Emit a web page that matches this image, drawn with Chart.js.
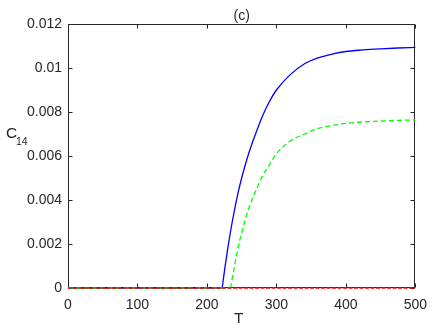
<!DOCTYPE html>
<html>
<head>
<meta charset="utf-8">
<script src="https://cdn.jsdelivr.net/npm/chart.js@4"></script>
<style>
html,body{margin:0;padding:0;background:#fff;}
#wrap{width:436px;height:328px;}
</style>
</head>
<body>
<div id="wrap"><canvas id="c" width="436" height="328"></canvas></div>
<script>
// ---- data ----
const xTicks = [0, 100, 200, 300, 400, 500];
const yTicks = [0, 0.002, 0.004, 0.006, 0.008, 0.01, 0.012];
const yTickLabels = ['0', '0.002', '0.004', '0.006', '0.008', '0.01', '0.012'];

const tZero = [0, 500];
const cZero = [0, 0];

const tBlue = [222, 226, 230, 235, 240, 245, 250, 260, 270, 280, 290, 300, 320, 340, 360, 380, 400, 425, 450, 475, 500];
const cBlue = [0, 0.00095, 0.0018, 0.00275, 0.0036, 0.00435, 0.0050, 0.0061, 0.0070, 0.00782, 0.00848, 0.0090, 0.00970, 0.01018, 0.01046, 0.01063, 0.01075, 0.01082, 0.01087, 0.01091, 0.01094];
const tBlueFlat = [0, 222];
const cBlueFlat = [0, 0];

const tGreen = [234, 238, 242, 246, 250, 255, 260, 270, 280, 290, 300, 320, 340, 360, 380, 400, 425, 450, 475, 500];
const cGreen = [0, 0.0007, 0.0014, 0.0020, 0.0025, 0.0031, 0.0036, 0.0044, 0.0051, 0.0056, 0.0061, 0.00668, 0.00699, 0.00725, 0.00738, 0.00748, 0.00755, 0.00759, 0.00762, 0.00764];
const tGreenFlat = [0, 234];
const cGreenFlat = [0, 0];

const titleText = '(c)';
const xLabel = 'T';
const yLabelMain = 'C';
const yLabelSub = '14';

const pts = (xs, ys) => xs.map((x, i) => ({x: x, y: ys[i]}));
const FONT = '"Liberation Sans", Arial, Helvetica, sans-serif';
const AX = '#262626';

const boxPlugin = {
  id: 'box',
  beforeDatasetsDraw(chart) {
    const ctx = chart.ctx;
    const a = chart.chartArea;
    const xs = chart.scales.x, ys = chart.scales.y;
    ctx.save();
    ctx.strokeStyle = AX;
    ctx.lineWidth = 1;
    const L = Math.round(a.left) + 0.5, R = Math.round(a.right) - 0.5;
    const T = Math.round(a.top) + 0.5, B = Math.round(a.bottom) - 0.5;
    ctx.beginPath();
    ctx.rect(L, T, R - L, B - T);
    ctx.stroke();
    const tl = 4;
    ctx.beginPath();
    xTicks.forEach(v => {
      const px = Math.round(xs.getPixelForValue(v)) + 0.5;
      ctx.moveTo(px, B); ctx.lineTo(px, B - tl);
      ctx.moveTo(px, T); ctx.lineTo(px, T + tl);
    });
    yTicks.forEach(v => {
      const py = Math.round(ys.getPixelForValue(v)) + 0.5;
      ctx.moveTo(L, py); ctx.lineTo(L + tl, py);
      ctx.moveTo(R, py); ctx.lineTo(R - tl, py);
    });
    ctx.stroke();
    ctx.restore();
  },
  afterDraw(chart) {
    const ctx = chart.ctx;
    const a = chart.chartArea;
    ctx.save();
    ctx.fillStyle = AX;
    ctx.textAlign = 'center';
    ctx.textBaseline = 'alphabetic';
    ctx.font = '14px ' + FONT;
    ctx.fillText(titleText, (a.left + a.right) / 2, 20);
    ctx.font = '15.4px ' + FONT;
    ctx.fillText(xLabel, (a.left + a.right) / 2 - 3, 323);
    ctx.textAlign = 'left';
    ctx.font = '15.4px ' + FONT;
    ctx.fillText(yLabelMain, 6, 138);
    ctx.font = '10.5px ' + FONT;
    ctx.fillText(yLabelSub, 16, 144.5);
    ctx.restore();
  }
};

new Chart(document.getElementById('c'), {
  type: 'line',
  data: {
    datasets: [
      {data: pts(tZero, cZero), borderColor: '#ff0000', borderWidth: 1.3, borderDash: [4, 1.5], pointRadius: 0, clip: false, order: 0},
      {data: pts(tBlue, cBlue), borderColor: '#0000ff', borderWidth: 1.3, pointRadius: 0, cubicInterpolationMode: 'monotone', clip: false, order: 2},
      {data: pts(tBlueFlat, cBlueFlat), borderColor: '#0000ff', borderWidth: 1.3, pointRadius: 0, clip: false, order: 2},
      {data: pts(tGreen, cGreen), borderColor: '#00ff00', borderWidth: 1.3, borderDash: [5, 3], pointRadius: 0, cubicInterpolationMode: 'monotone', clip: false, order: 1},
      {data: pts(tGreenFlat, cGreenFlat), borderColor: '#00ff00', borderWidth: 1.3, borderDash: [5, 3], pointRadius: 0, clip: false, order: 1}
    ]
  },
  options: {
    responsive: false,
    animation: false,
    devicePixelRatio: 1,
    layout: {padding: {left: 0, top: 24, right: 20, bottom: 0}},
    plugins: {legend: {display: false}, tooltip: {enabled: false}, title: {display: false}},
    scales: {
      x: {
        type: 'linear', min: 0, max: 500,
        afterBuildTicks: s => { s.ticks = xTicks.map(v => ({value: v})); },
        afterFit: s => { s.height = 40; },
        grid: {display: false, drawTicks: false},
        border: {display: false},
        ticks: {color: AX, font: {family: FONT, size: 14}, padding: 9, maxRotation: 0, callback: v => String(v)}
      },
      y: {
        type: 'linear', min: 0, max: 0.012,
        afterBuildTicks: s => { s.ticks = yTicks.map(v => ({value: v})); },
        afterFit: s => { s.width = 68; },
        grid: {display: false, drawTicks: false},
        border: {display: false},
        ticks: {color: AX, font: {family: FONT, size: 14}, padding: 6, callback: (v, i) => yTickLabels[i]}
      }
    }
  },
  plugins: [boxPlugin]
});
</script>
</body>
</html>
